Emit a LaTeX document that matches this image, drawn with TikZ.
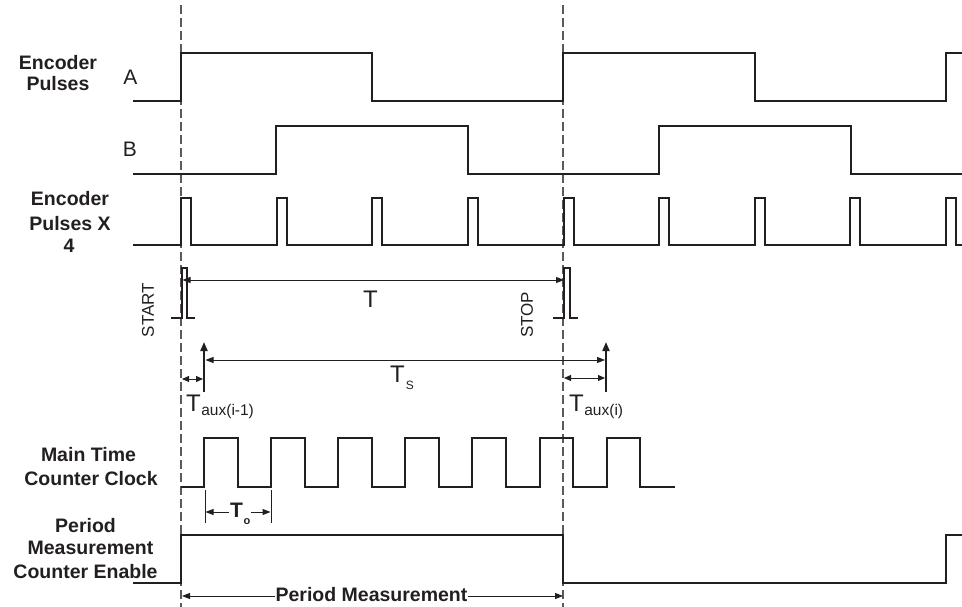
\documentclass[tikz,border=0pt]{standalone}
\usepackage{fontspec}
\setmainfont{Liberation Sans}
\usetikzlibrary{arrows.meta}
\definecolor{sig}{HTML}{231F20}
\definecolor{guidecol}{HTML}{5A5A5A}
\begin{document}
\begin{tikzpicture}[x=1pt,y=-1pt,
  wave/.style={line width=2pt,draw=sig,line join=miter},
  marker/.style={line width=1.6pt,draw=sig,line join=miter},
  guide/.style={line width=1.3pt,draw=guidecol,dash pattern=on 9pt off 4pt},
  tick/.style={line width=1pt,draw=sig},
  arr/.style={line width=1pt,draw=sig,-{Triangle[length=8pt,width=6pt]}},
  arrboth/.style={line width=1pt,draw=sig,{Triangle[length=8pt,width=6pt]}-{Triangle[length=8pt,width=6pt]}},
  uparr/.style={line width=2pt,draw=sig,-{Triangle[length=9pt,width=7pt]}},
  lab/.style={font=\fontsize{19.5}{23}\selectfont\bfseries,text=sig,inner sep=0pt,anchor=base},
  sig/.style={font=\fontsize{21}{22}\selectfont,text=sig,inner sep=0pt,anchor=base},
  vert/.style={font=\fontsize{17}{18}\selectfont,text=sig,inner sep=0pt,rotate=90},
  tlab/.style={font=\fontsize{24}{26}\selectfont,text=sig,inner sep=0pt,anchor=base west},
]
\useasboundingbox (0,0) rectangle (962,607);

% guides
\draw[guide] (181,5) -- (181,607);
\draw[guide] (563,5) -- (563,607);

% left labels
\node[lab] (ep1) at (58,69.5) {Encoder};
\node[lab] (ep2) at (58,91) {Pulses};
\node[lab] (ex1) at (70,206) {Encoder};
\node[lab] (ex2) at (70,230) {Pulses X};
\node[lab] (ex3) at (69,252) {4};
\node[lab] (mc1) at (88.5,461) {Main Time};
\node[lab] (mc2) at (91,485) {Counter Clock};
\node[lab] (pe1) at (85.5,532) {Period};
\node[lab] (pe2) at (90.5,554) {Measurement};
\node[lab] (pe3) at (85.5,578) {Counter Enable};
\node[sig] (la) at (130.5,84.5) {A};
\node[sig] (lb) at (130,157) {B};

% signal A
\draw[wave] (133,101) -- (181,101) -- (181,53) -- (372,53) -- (372,101) -- (563,101) -- (563,53) -- (755,53) -- (755,101) -- (946,101) -- (946,53) -- (962,53);
% signal B
\draw[wave] (133,174) -- (276,174) -- (276,126) -- (468,126) -- (468,174) -- (659,174) -- (659,126) -- (851,126) -- (851,174) -- (962,174);
% x4 pulses
\draw[wave] (133,245) foreach \k in {0,...,8}{ -- ({181+95.625*\k},245) -- ++(0,-47) -- ++(10,0) -- ++(0,47) } -- (962,245);
% main clock
\draw[wave] (181,487) foreach \k in {0,...,6}{ -- ({204+67.1*\k},487) -- ++(0,-49) -- ++(33.5,0) -- ++(0,49) } -- (675,487);
% enable
\draw[wave] (133,583) -- (181,583) -- (181,535) -- (563,535) -- (563,583) -- (946,583) -- (946,535) -- (962,535);

% START / STOP markers
\draw[marker] (171,318) -- (182,318) -- (182,268) -- (187,268) -- (187,318) -- (195,318);
\draw[marker] (553,318) -- (564,318) -- (564,268) -- (570,268) -- (570,318) -- (578,318);
\node[vert] (start) at (148,310) {START};
\node[vert] (stop) at (527,315) {STOP};

% T
\coordinate (tl) at (182.5,280);
\coordinate (tr) at (564,280);
\draw[arrboth] (tl) -- (tr);
\node[tlab,anchor=base] (tt) at (370.5,307) {T};

% Ts and aux arrows
\coordinate (a1b) at (204,392);
\coordinate (a1t) at (204,342);
\coordinate (a2b) at (606,392);
\coordinate (a2t) at (606,342);
\draw[uparr] (a1b) -- (a1t);
\draw[uparr] (a2b) -- (a2t);
\coordinate (tsl) at (205.5,360);
\coordinate (tsr) at (605,360);
\draw[arrboth] (tsl) -- (tsr);
\node[tlab] (ts) at (390,382) {T\kern1pt\raisebox{-7pt}{\fontsize{12}{13}\selectfont S}};

\coordinate (x1l) at (182,379);
\coordinate (x1r) at (203,379);
\draw[arrboth,{Triangle[length=7pt,width=6pt]}-{Triangle[length=7pt,width=6pt]}] (x1l) -- (x1r);
\coordinate (x2l) at (564,378);
\coordinate (x2r) at (605,378);
\draw[arrboth,{Triangle[length=7pt,width=6pt]}-{Triangle[length=7pt,width=6pt]}] (x2l) -- (x2r);
\node[tlab] (taux1) at (186,411) {T\kern0.5pt\raisebox{-4pt}{\fontsize{15.5}{16}\selectfont aux(i-1)}};
\node[tlab] (taux2) at (569,411) {T\kern0.5pt\raisebox{-4pt}{\fontsize{15.5}{16}\selectfont aux(i)}};

% T0
\draw[tick] (205,490) -- (205,523);
\draw[tick] (271,490) -- (271,523);
\coordinate (t0l) at (205.5,512);
\coordinate (t0r) at (270.5,512);
\node[tlab,font=\fontsize{21}{22}\selectfont\bfseries] (t0) at (230,517) {T\kern0.5pt\raisebox{-7pt}{\fontsize{11}{12}\selectfont\bfseries o}};
\draw[arr] ([xshift=-1pt]t0.west |- t0l) -- (t0l);
\draw[arr] ([xshift=1pt]t0.east |- t0r) -- (t0r);

% Period measurement
\coordinate (pml) at (182,596);
\coordinate (pmr) at (563,596);
\node[lab] (pm) at (371.5,601) {Period Measurement};
\draw[arr] (pm.west |- pml) -- (pml);
\draw[arr] (pm.east |- pmr) -- (pmr);
\end{tikzpicture}
\end{document}
